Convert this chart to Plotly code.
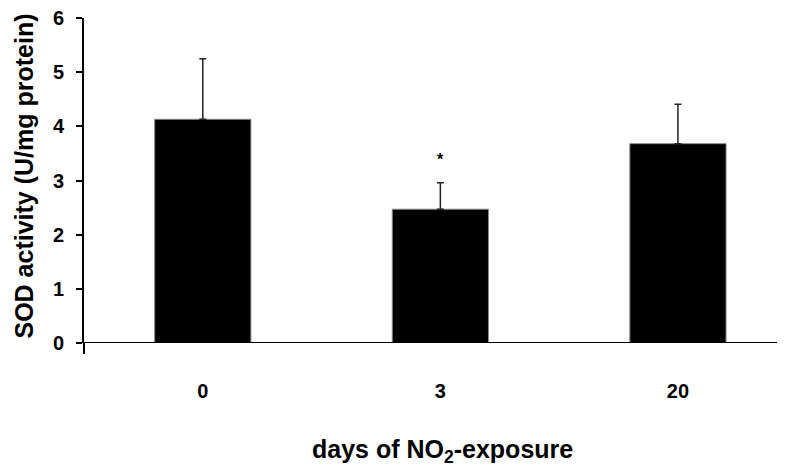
import plotly.graph_objects as go

categories = ["0", "3", "20"]
sod_mean = [4.13, 2.47, 3.68]
sod_err = [1.12, 0.49, 0.73]
y_ticks = [0, 1, 2, 3, 4, 5, 6]
star_label = ["", "*", ""]

FONT = "Liberation Sans, Arial, sans-serif"

# The page body has an 8 px default margin; figure sized so the page fits the window.
W, H = 774, 461
L, T, B = 76, 10, 126
PW, PH = W - L, H - T - B

fig = go.Figure()
fig.add_trace(go.Bar(
    x=[0, 1, 2],
    y=sod_mean,
    marker=dict(color="black", line=dict(color="#888888", width=1)),
    width=0.405,
    error_y=dict(type="data", array=sod_err, arrayminus=[0, 0, 0], symmetric=False,
                 color="#222222", thickness=1.5, width=3.5),
    showlegend=False,
))

for i, s in enumerate(star_label):
    if s:
        fig.add_annotation(x=i, y=sod_mean[i] + sod_err[i] + 0.43, text=f"<b>{s}</b>",
                           showarrow=False, font=dict(family=FONT, size=16, color="black"),
                           xref="x", yref="y")

fig.update_layout(
    width=W, height=H,
    margin=dict(l=L, r=0, t=T, b=B),
    plot_bgcolor="white", paper_bgcolor="white",
    font=dict(family=FONT, color="black"),
    xaxis=dict(
        range=[-0.5, 2.438], tickmode="array", tickvals=[0, 1, 2], ticktext=categories,
        showgrid=False, zeroline=False, showline=False, ticks="",
        tickfont=dict(family=FONT, size=20, color="black", weight="bold"),
        ticklabelstandoff=34, automargin=False,
    ),
    yaxis=dict(
        range=[0, 6], tickvals=y_ticks, showgrid=False, zeroline=False,
        showline=True, linecolor="black", linewidth=2,
        ticks="outside", ticklen=6, tickwidth=2, tickcolor="black",
        tickfont=dict(family=FONT, size=20, color="black", weight="bold"),
        ticklabelstandoff=8, automargin=False, ticklabeloverflow="allow",
    ),
)

# x axis baseline and left downward tick
fig.add_shape(type="line", xref="paper", yref="y", x0=0, x1=1, y0=0, y1=0,
              line=dict(color="black", width=2))
fig.add_shape(type="line", xref="paper", yref="paper", x0=0, x1=0, y0=0, y1=-11 / PH,
              line=dict(color="black", width=2))

fig.add_annotation(xref="paper", yref="paper", x=(16 - L) / PW, y=(T + PH - 168.5) / PH,
                   xanchor="center", yanchor="middle",
                   text="<b>SOD activity (U/mg protein)</b>", textangle=-90, showarrow=False,
                   font=dict(family=FONT, size=25, color="black"))
fig.add_annotation(xref="paper", yref="paper", x=(434 - L) / PW, y=(T + PH - 443) / PH,
                   xanchor="center", yanchor="middle",
                   text="<b>days of NO<sub>2</sub>-exposure</b>", showarrow=False,
                   font=dict(family=FONT, size=25, color="black"))

fig.write_html("out.html")
